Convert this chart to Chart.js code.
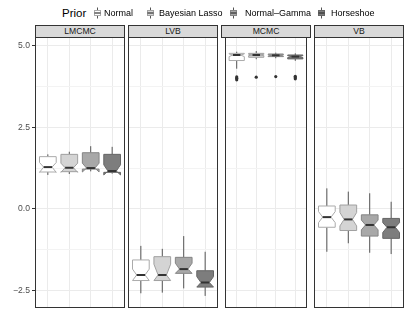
<!DOCTYPE html>
<html>
<head>
<meta charset="utf-8">
<script src="https://cdn.jsdelivr.net/npm/chart.js@4/dist/chart.umd.min.js"></script>
<style>
  html,body{margin:0;padding:0;background:#fff;}
  body{width:407px;height:326px;position:relative;overflow:hidden;font-family:"Liberation Sans",Arial,sans-serif;}
  .cw{position:absolute;}
  .strip{position:absolute;top:25px;height:11px;background:#D9D9D9;border:1px solid #333;box-sizing:content-box;
         font-size:8.6px;color:#1A1A1A;text-align:center;line-height:11px;}
  .lg{position:absolute;font-size:9px;color:#000;white-space:nowrap;line-height:12px;top:7px;}
  .lgt{position:absolute;font-size:11.5px;color:#000;top:6px;line-height:14px;}
  .gl{position:absolute;top:7px;}
</style>
</head>
<body>
<div id="root"></div>
<script>
// ---------- data ----------
const facets = ["LMCMC", "LVB", "MCMC", "VB"];
const priors = ["Normal", "Bayesian Lasso", "Normal–Gamma", "Horseshoe"];
const yMajorTicks = [-2.5, 0, 2.5, 5];
const yMinorTicks = [-1.25, 1.25, 3.75];
const yTickLabels = ["−2.5", "0.0", "2.5", "5.0"];

// per facet (rows) and prior (columns)
const whiskerHigh = [
  [1.67, 1.75, 1.92, 1.90],
  [-1.13, -1.22, -0.83, -1.31],
  [4.81, 4.83, 4.78, 4.76],
  [0.63, 0.53, 0.48, 0.22]
];
const upperHinge = [
  [1.60, 1.67, 1.72, 1.67],
  [-1.56, -1.46, -1.48, -1.89],
  [4.76, 4.76, 4.74, 4.71],
  [0.09, 0.12, -0.18, -0.29]
];
const notchHigh = [
  [1.42, 1.40, 1.40, 1.35],
  [-1.84, -1.69, -1.66, -2.07],
  [4.74, 4.73, 4.72, 4.69],
  [-0.08, -0.11, -0.34, -0.42]
];
const medians = [
  [1.28, 1.26, 1.25, 1.16],
  [-2.02, -2.02, -1.84, -2.25],
  [4.71, 4.71, 4.70, 4.66],
  [-0.25, -0.32, -0.49, -0.56]
];
const notchLow = [
  [1.12, 1.12, 1.13, 1.04],
  [-2.19, -2.19, -1.97, -2.39],
  [4.66, 4.69, 4.68, 4.63],
  [-0.42, -0.52, -0.64, -0.72]
];
const lowerHinge = [
  [1.13, 1.14, 1.22, 1.12],
  [-2.19, -2.19, -1.97, -2.39],
  [4.54, 4.64, 4.66, 4.59],
  [-0.56, -0.66, -0.83, -0.90]
];
const whiskerLow = [
  [1.04, 1.07, 1.15, 1.08],
  [-2.58, -2.56, -2.43, -2.66],
  [4.29, 4.58, 4.61, 4.53],
  [-1.31, -1.05, -1.34, -1.38]
];
const outliers = [
  [[], [], [], []],
  [[], [], [], []],
  [[3.95, 4.0, 4.04], [4.03], [4.05], [3.98, 4.02, 4.06]],
  [[], [], [], []]
];

// ---------- style ----------
const fills = ["#FFFFFF", "#D4D4D4", "#A8A8A8", "#7D7D7D"];
const outlines = ["#ABABAB", "#A0A0A0", "#858585", "#666666"];
const whiskerColor = "#555555";
const medianColor = "#333333";
const boxWidth = 0.78;
const yMin = -3.03, yMax = 5.26;
const panelLeft = [35, 128, 221, 314];
const panelWidth = 90;
const panelTop = 37, panelBottom = 308;

Chart.defaults.font.family = '"Liberation Sans", Arial, sans-serif';
Chart.defaults.animation = false;

const boxPlugin = {
  id: 'notchedBoxes',
  beforeDatasetsDraw(chart) {
    const f = chart.options.plugins.notchedBoxes.facet;
    const xs = chart.scales.x, ys = chart.scales.y, ctx = chart.ctx;
    const a = chart.chartArea;
    ctx.save();
    ctx.beginPath(); ctx.rect(a.left, a.top, a.right - a.left, a.bottom - a.top); ctx.clip();
    for (let i = 0; i < priors.length; i++) {
      const cx = xs.getPixelForValue(i + 1);
      const half = xs.getPixelForValue(1 + boxWidth / 2) - xs.getPixelForValue(1);
      const x0 = cx - half, x1 = cx + half, nw = half * 0.5;
      const yU = ys.getPixelForValue(upperHinge[f][i]);
      const yL = ys.getPixelForValue(lowerHinge[f][i]);
      const yNH = ys.getPixelForValue(notchHigh[f][i]);
      const yNL = ys.getPixelForValue(notchLow[f][i]);
      const yM = ys.getPixelForValue(medians[f][i]);
      const yWH = ys.getPixelForValue(whiskerHigh[f][i]);
      const yWL = ys.getPixelForValue(whiskerLow[f][i]);
      // whiskers
      ctx.strokeStyle = whiskerColor; ctx.lineWidth = 1;
      ctx.beginPath();
      ctx.moveTo(cx, yU); ctx.lineTo(cx, yWH);
      ctx.moveTo(cx, yL); ctx.lineTo(cx, yWL);
      ctx.stroke();
      // notched box
      ctx.beginPath();
      ctx.moveTo(x0, yU);
      ctx.lineTo(x0, yNH);
      ctx.lineTo(x0 + nw, yM);
      ctx.lineTo(x0, yNL);
      ctx.lineTo(x0, yL);
      ctx.lineTo(x1, yL);
      ctx.lineTo(x1, yNL);
      ctx.lineTo(x1 - nw, yM);
      ctx.lineTo(x1, yNH);
      ctx.lineTo(x1, yU);
      ctx.closePath();
      ctx.fillStyle = fills[i]; ctx.fill();
      ctx.strokeStyle = outlines[i]; ctx.lineWidth = 1; ctx.stroke();
      // median
      ctx.strokeStyle = medianColor; ctx.lineWidth = 2;
      ctx.beginPath(); ctx.moveTo(x0 + nw, yM); ctx.lineTo(x1 - nw, yM); ctx.stroke();
    }
    ctx.restore();
  },
  afterDraw(chart) {
    const a = chart.chartArea, ctx = chart.ctx;
    ctx.save();
    ctx.strokeStyle = "#333333"; ctx.lineWidth = 1;
    ctx.strokeRect(Math.round(a.left) + 0.5, Math.round(a.top) + 0.5,
                   Math.round(a.right - a.left) - 1, Math.round(a.bottom - a.top) - 1);
    ctx.restore();
  }
};

const root = document.getElementById('root');

facets.forEach((name, f) => {
  const first = f === 0;
  const left = first ? 0 : panelLeft[f];
  const width = first ? panelLeft[0] + panelWidth : panelWidth;
  const wrap = document.createElement('div');
  wrap.className = 'cw';
  wrap.style.left = left + 'px';
  wrap.style.top = (panelTop - 10) + 'px';
  wrap.style.width = width + 'px';
  wrap.style.height = (panelBottom - panelTop + 20) + 'px';
  const cv = document.createElement('canvas');
  cv.width = width; cv.height = panelBottom - panelTop + 20;
  wrap.appendChild(cv);
  root.appendChild(wrap);

  const strip = document.createElement('div');
  strip.className = 'strip';
  strip.style.left = panelLeft[f] + 'px';
  strip.style.width = (panelWidth - 2) + 'px';
  strip.textContent = name;
  root.appendChild(strip);

  const pts = [];
  outliers[f].forEach((arr, i) => arr.forEach(v => pts.push({ x: i + 1, y: v })));

  new Chart(cv, {
    type: 'scatter',
    data: {
      datasets: [{
        data: pts,
        pointRadius: 1.6,
        pointBackgroundColor: '#333333',
        pointBorderColor: '#333333',
        pointBorderWidth: 0
      }]
    },
    options: {
      responsive: false,
      devicePixelRatio: 1,
      layout: { padding: { top: 10, bottom: 10, left: 0, right: 0 } },
      plugins: {
        legend: { display: false },
        tooltip: { enabled: false },
        notchedBoxes: { facet: f }
      },
      scales: {
        x: {
          type: 'linear', min: 0.4, max: 4.6,
          afterBuildTicks: s => { s.ticks = priors.map((p, i) => ({ value: i + 1 })); },
          afterFit: s => { s.height = 0; },
          ticks: { display: false },
          border: { display: false },
          grid: { color: '#EBEBEB', lineWidth: 1, drawTicks: false }
        },
        y: {
          type: 'linear', min: yMin, max: yMax,
          afterBuildTicks: s => {
            s.ticks = yMajorTicks.concat(yMinorTicks).sort((a, b) => a - b).map(v => ({ value: v }));
          },
          afterFit: s => { s.width = first ? panelLeft[0] : 0; },
          ticks: {
            display: first,
            padding: 2,
            color: '#4D4D4D',
            font: { size: 8.6 },
            callback: v => {
              const k = yMajorTicks.indexOf(v);
              return k >= 0 ? yTickLabels[k] : '';
            }
          },
          border: { display: false },
          grid: {
            drawTicks: first,
            tickLength: 3,
            color: c => (c.tick && yMajorTicks.includes(c.tick.value)) ? '#EBEBEB' : '#F3F3F3',
            tickColor: c => (c.tick && yMajorTicks.includes(c.tick.value)) ? '#333333' : 'rgba(0,0,0,0)',
            lineWidth: 1
          }
        }
      }
    },
    plugins: [boxPlugin]
  });
});

// ---------- legend (HTML text + small glyphs) ----------
const legendTitleX = 62;
const legendGlyphX = [93, 146, 229, 317];
const legendTextX = [104, 159, 245, 331];
const t = document.createElement('div');
t.className = 'lgt'; t.style.left = legendTitleX + 'px'; t.textContent = 'Prior';
root.appendChild(t);
priors.forEach((p, i) => {
  const g = document.createElementNS('http://www.w3.org/2000/svg', 'svg');
  g.setAttribute('width', '9'); g.setAttribute('height', '12');
  g.setAttribute('class', 'gl');
  g.style.left = legendGlyphX[i] + 'px';
  g.innerHTML =
    '<line x1="4.5" y1="0.5" x2="4.5" y2="11.5" stroke="' + whiskerColor + '" stroke-width="1"/>' +
    '<rect x="1.5" y="3.5" width="6" height="5" fill="' + fills[i] + '" stroke="' + outlines[i] + '" stroke-width="1"/>' +
    '<line x1="1.5" y1="6" x2="7.5" y2="6" stroke="' + medianColor + '" stroke-width="1.2"/>';
  root.appendChild(g);
  const s = document.createElement('div');
  s.className = 'lg'; s.style.left = legendTextX[i] + 'px'; s.textContent = p;
  root.appendChild(s);
});
</script>
</body>
</html>
